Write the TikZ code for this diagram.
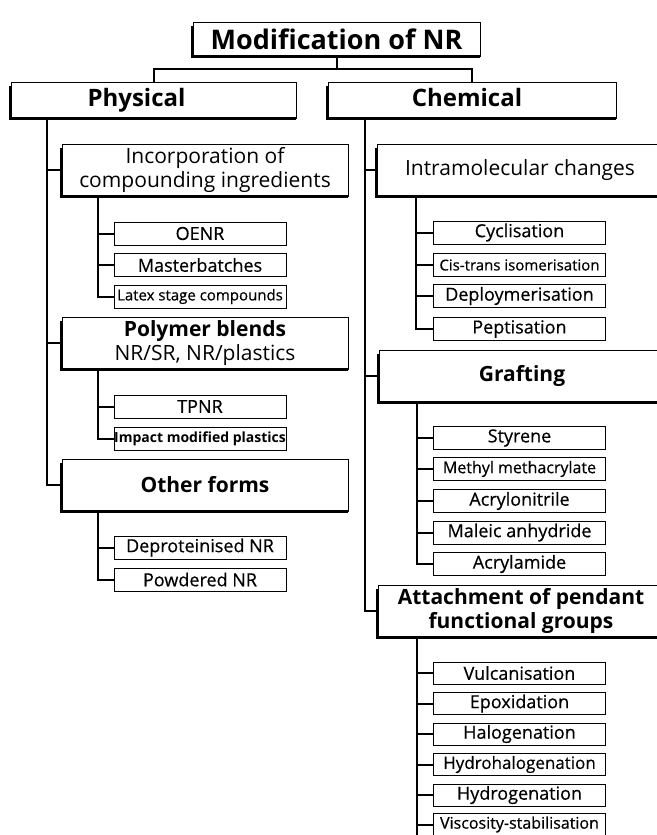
\documentclass[tikz,border=0pt]{standalone}
\usepackage{fontspec}
\setmainfont{Open Sans}
\newfontfamily\itemfont{Open Sans}[FakeBold=0.5]
\begin{document}
\begin{tikzpicture}[x=1pt, y=-1pt,
  big/.style={draw, line width=0.9pt, fill=white, inner sep=0pt, minimum width=286pt, minimum height=52pt, align=center, font=\fontsize{21}{24}\selectfont},
  item/.style={draw, line width=0.8pt, fill=white, inner sep=0pt, minimum width=172pt, minimum height=23pt, font=\itemfont\fontsize{18}{20}\selectfont},
  link/.style={line width=2pt},
  rim/.style={line width=2.6pt}]
  \useasboundingbox (0,0) rectangle (656,835);
  \node[big, minimum width=287pt, minimum height=34pt, font=\bfseries\fontsize{27}{30}\selectfont] (root) at (336.5,39) {Modification of NR};
  \node[big, minimum width=285pt, minimum height=36pt, text height=18pt, text depth=5pt, font=\bfseries\fontsize{24}{26}\selectfont] (phys) at (153.5,100) {Physical\hspace*{34pt}};
  \node[big, minimum width=288pt, minimum height=36pt, text height=18pt, text depth=5pt, font=\bfseries\fontsize{24}{26}\selectfont] (chem) at (472,100) {Chemical\hspace*{10pt}};
  % physical side
  \node[big] (incorp) at (205,170) {Incorporation of\\compounding ingredients};
  \node[item] (oenr) at (200,233.5) {OENR};
  \node[item] (master) at (200,265) {Masterbatches};
  \node[item, font=\itemfont\fontsize{15}{17}\selectfont] (latex) at (200,296.5) {Latex stage compounds};
  \node[big] (blend) at (205,343) {\textbf{Polymer blends}\\NR/SR, NR/plastics};
  \node[item] (tpnr) at (200,406.5) {TPNR};
  \node[item, font=\bfseries\fontsize{14}{16}\selectfont] (impact) at (200,438.5) {Impact modified plastics};
  \node[big, font=\bfseries\fontsize{21}{24}\selectfont] (other) at (205,485) {Other forms};
  \node[item] (deprot) at (200,547.5) {Deproteinised NR};
  \node[item] (powder) at (200,579.5) {Powdered NR};
  % chemical side
  \node[big] (intra) at (520,170) {Intramolecular changes};
  \node[item] (cycl) at (519.5,232.5) {Cyclisation};
  \node[item, font=\itemfont\fontsize{15}{17}\selectfont] (cistrans) at (519.5,265) {Cis-trans isomerisation};
  \node[item] (depoly) at (519.5,296) {Deploymerisation};
  \node[item] (pept) at (519.5,329) {Peptisation};
  \node[big, font=\bfseries\fontsize{21}{24}\selectfont] (graft) at (522,376) {Grafting};
  \node[item] (styr) at (519.5,438) {Styrene};
  \node[item, font=\itemfont\fontsize{16}{18}\selectfont] (mma) at (519.5,469) {Methyl methacrylate};
  \node[item] (acn) at (519.5,501) {Acrylonitrile};
  \node[item] (maleic) at (519.5,532.5) {Maleic anhydride};
  \node[item] (acam) at (519.5,564) {Acrylamide};
  \node[big, font=\bfseries\fontsize{21}{24}\selectfont] (attach) at (521,611) {Attachment of pendant\\functional groups};
  \node[item, minimum height=22pt] (vulc) at (519.5,673) {Vulcanisation};
  \node[item, minimum height=22pt] (epox) at (519.5,703.5) {Epoxidation};
  \node[item, minimum height=22pt] (halo) at (519.5,734) {Halogenation};
  \node[item, minimum height=22pt, font=\itemfont\fontsize{17}{19}\selectfont] (hhalo) at (519.5,764.5) {Hydrohalogenation};
  \node[item, minimum height=22pt] (hydro) at (519.5,795) {Hydrogenation};
  \node[item, minimum height=22pt, font=\itemfont\fontsize{16}{18}\selectfont] (visc) at (519.5,824.5) {Viscosity-stabilisation};
  % shadow rims
  \foreach \n in {root,phys,chem,incorp,blend,other,intra,graft,attach}
    \draw[rim] ([yshift=-4pt]\n.north west) |- (\n.south east);
  % connectors
  \draw[link] (root.south) -- ++(0,13) coordinate (split);
  \draw[link] (phys.north) |- (split) -| (chem.north);
  \coordinate (ptrunk) at ([xshift=36pt]phys.south west);
  \draw[link] (ptrunk) |- (other.west);
  \foreach \n in {incorp,blend}
    \draw[link] (ptrunk |- \n.west) -- (\n.west);
  \coordinate (itrunk) at ([xshift=36pt]incorp.south west);
  \draw[link] (itrunk) |- (latex.west);
  \foreach \n in {oenr,master}
    \draw[link] (itrunk |- \n.west) -- (\n.west);
  \coordinate (btrunk) at ([xshift=36pt]blend.south west);
  \draw[link] (btrunk) |- (impact.west);
  \draw[link] (btrunk |- tpnr.west) -- (tpnr.west);
  \coordinate (otrunk) at ([xshift=36pt]other.south west);
  \draw[link] (otrunk) |- (powder.west);
  \draw[link] (otrunk |- deprot.west) -- (deprot.west);
  \coordinate (ctrunk) at ([xshift=37pt]chem.south west);
  \draw[link] (ctrunk) |- (attach.west);
  \foreach \n in {intra,graft}
    \draw[link] (ctrunk |- \n.west) -- (\n.west);
  \coordinate (ntrunk) at ([xshift=39pt]intra.south west);
  \draw[link] (ntrunk) |- (pept.west);
  \foreach \n in {cycl,cistrans,depoly}
    \draw[link] (ntrunk |- \n.west) -- (\n.west);
  \coordinate (gtrunk) at ([xshift=38pt]graft.south west);
  \draw[link] (gtrunk) |- (acam.west);
  \foreach \n in {styr,mma,acn,maleic}
    \draw[link] (gtrunk |- \n.west) -- (\n.west);
  \coordinate (atrunk) at ([xshift=39pt]attach.south west);
  \draw[link] (atrunk) -- ++(0,220);
  \foreach \n in {vulc,epox,halo,hhalo,hydro,visc}
    \draw[link] (atrunk |- \n.west) -- (\n.west);
\end{tikzpicture}
\end{document}
